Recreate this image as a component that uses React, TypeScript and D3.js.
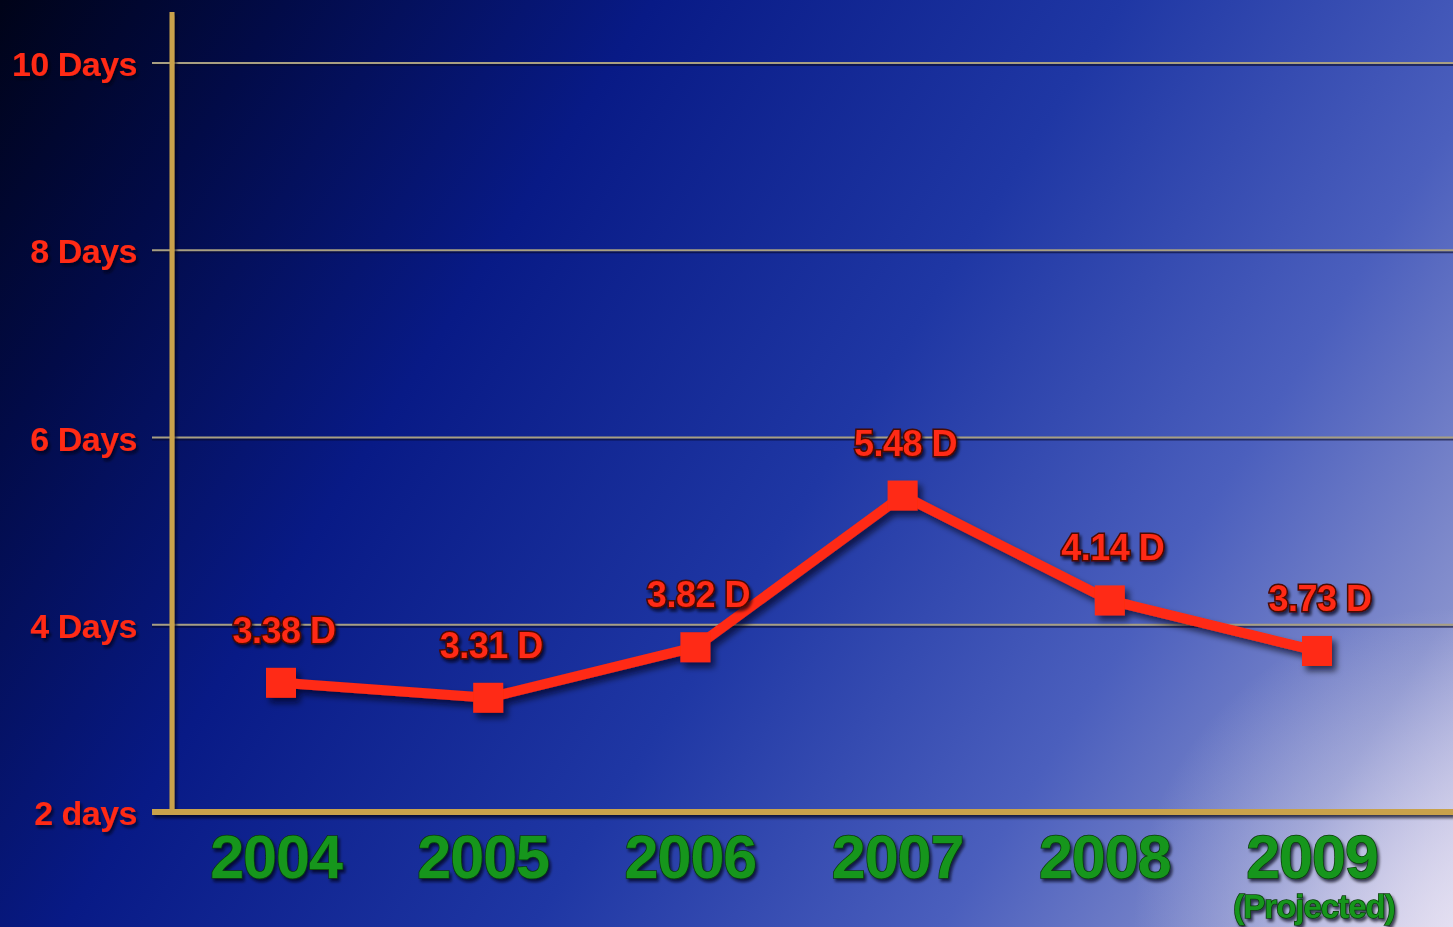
import * as d3 from 'd3';
import {useMemo} from 'react';

const WIDTH = 1453;
const HEIGHT = 927;

const years = ['2004', '2005', '2006', '2007', '2008', '2009'];
const days = [3.38, 3.22, 3.76, 5.38, 4.26, 3.72];
const dayLabels = ['3.38 D', '3.31 D', '3.82 D', '5.48 D', '4.14 D', '3.73 D'];
const yTicks = [2, 4, 6, 8, 10];
const yTickLabels = ['2 days', '4 Days', '6 Days', '8 Days', '10 Days'];
const yearNote = ['', '', '', '', '', '(Projected)'];

const RED = '#ff2a12';
const GOLD = '#c9a24c';
const GREEN = '#17961c';
const FONT = '"Liberation Sans", Arial, sans-serif';

function App() {
  const x = useMemo(() => d3.scalePoint<string>().domain(years).range([281, 1317]), []);
  const y = useMemo(() => d3.scaleLinear().domain([2, 10]).range([812, 63]), []);

  const path = useMemo(() => {
    const line = d3
      .line<number>()
      .x((_, i) => x(years[i])!)
      .y((d) => y(d))
      .curve(d3.curveLinear);
    return line(days);
  }, [x, y]);

  const axisLeft = 172;
  const gridStart = 152;

  return (
    <svg
      width={WIDTH}
      height={HEIGHT}
      viewBox={`0 0 ${WIDTH} ${HEIGHT}`}
      style={{position: 'absolute', left: 0, top: 0, display: 'block'}}
    >
      <defs>
        <linearGradient id="bg" gradientUnits="userSpaceOnUse" x1={0} y1={0} x2={WIDTH} y2={HEIGHT}>
          <stop offset="0" stopColor="#000318" />
          <stop offset="0.14" stopColor="#020b48" />
          <stop offset="0.32" stopColor="#081a86" />
          <stop offset="0.55" stopColor="#1f37a4" />
          <stop offset="0.75" stopColor="#4b5fbd" />
          <stop offset="0.9" stopColor="#8690cd" />
          <stop offset="1" stopColor="#d6d2ec" />
        </linearGradient>
        <radialGradient id="glow" gradientUnits="userSpaceOnUse" cx={WIDTH} cy={HEIGHT} r={320}>
          <stop offset="0" stopColor="#ebe6f4" stopOpacity={0.65} />
          <stop offset="1" stopColor="#ebe6f4" stopOpacity={0} />
        </radialGradient>
        <filter id="shadow" x="-10%" y="-10%" width="130%" height="140%">
          <feDropShadow dx={4} dy={5} stdDeviation={3} floodColor="#000010" floodOpacity={0.65} />
        </filter>
        <filter id="textShadow" x="-10%" y="-20%" width="130%" height="160%">
          <feDropShadow dx={2} dy={3} stdDeviation={1.5} floodColor="#000010" floodOpacity={0.7} />
        </filter>
      </defs>

      <rect width={WIDTH} height={HEIGHT} fill="url(#bg)" />
      <rect width={WIDTH} height={HEIGHT} fill="url(#glow)" />

      {/* grid lines */}
      {yTicks.slice(1).map((t) => (
        <g key={t}>
          <line x1={gridStart} x2={WIDTH} y1={y(t) + 2} y2={y(t) + 2} stroke="#06082a" strokeOpacity={0.6} strokeWidth={2} />
          <line x1={gridStart} x2={WIDTH} y1={y(t)} y2={y(t)} stroke="#a89f82" strokeWidth={2} />
        </g>
      ))}

      {/* axes */}
      <g filter="url(#textShadow)">
        <line x1={axisLeft} x2={axisLeft} y1={12} y2={y(2)} stroke={GOLD} strokeWidth={5} />
        <line x1={gridStart} x2={WIDTH} y1={y(2)} y2={y(2)} stroke={GOLD} strokeWidth={6} />
      </g>

      {/* y tick labels */}
      {yTicks.map((t, i) => (
        <text
          key={t}
          x={137}
          y={y(t) + 13}
          textAnchor="end"
          fontFamily={FONT}
          fontWeight="bold"
          fontSize={34}
          letterSpacing={-0.5}
          fill={RED}
          filter="url(#textShadow)"
        >
          {yTickLabels[i]}
        </text>
      ))}

      {/* line and markers */}
      <g filter="url(#shadow)">
        <path d={path!} fill="none" stroke={RED} strokeWidth={10} strokeLinejoin="round" />
        {days.map((d, i) => (
          <rect key={years[i]} x={x(years[i])! - 15} y={y(d) - 15} width={30} height={30} fill={RED} />
        ))}
      </g>

      {/* value labels */}
      {days.map((d, i) => (
        <text
          key={years[i]}
          x={x(years[i])! + 3}
          y={y(d) - 40}
          textAnchor="middle"
          fontFamily={FONT}
          fontWeight="bold"
          fontSize={36}
          letterSpacing={-0.5}
          fill={RED}
          stroke="#4a0800"
          strokeWidth={3}
          paintOrder="stroke"
          filter="url(#textShadow)"
        >
          {dayLabels[i]}
        </text>
      ))}

      {/* year labels */}
      {years.map((yr, i) => (
        <g key={yr} filter="url(#textShadow)">
          <text
            x={x(yr)! - 5}
            y={878}
            textAnchor="middle"
            fontFamily={FONT}
            fontWeight="bold"
            fontSize={61}
            letterSpacing={-1}
            fill={GREEN}
            stroke="#0a3a0a"
            strokeWidth={1.5}
            paintOrder="stroke"
          >
            {yr}
          </text>
          {yearNote[i] && (
            <text
              x={x(yr)! - 3}
              y={918}
              textAnchor="middle"
              fontFamily={FONT}
              fontWeight="bold"
              fontSize={33}
              letterSpacing={-1}
              fill={GREEN}
              stroke="#0a3a0a"
              strokeWidth={1.5}
              paintOrder="stroke"
            >
              {yearNote[i]}
            </text>
          )}
        </g>
      ))}
    </svg>
  );
}

export default App;
